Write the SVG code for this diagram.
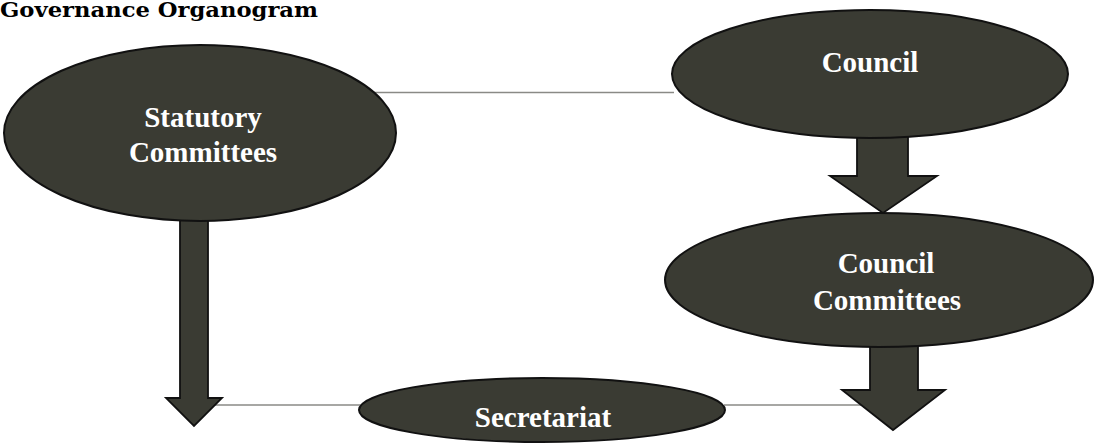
<svg xmlns="http://www.w3.org/2000/svg" width="1094" height="444" viewBox="0 0 1094 444">
<style>
.node{fill:#3a3b33;stroke:#111;stroke-width:2}
.arrow{fill:#3a3b33;stroke:#111;stroke-width:1.8;stroke-linejoin:miter}
.link{stroke:#8a8a86;stroke-width:1.3;fill:none}
.lbl{font-family:"Liberation Serif","Times New Roman",serif;font-weight:bold;font-size:29px;fill:#ffffff;text-anchor:middle}
.title{font-family:"DejaVu Serif",serif;font-weight:bold;font-size:20px;fill:#000}
</style>
<rect width="1094" height="444" fill="#ffffff"/>
<text class="title" x="0" y="17" textLength="318" lengthAdjust="spacingAndGlyphs">Governance Organogram</text>
<g id="connectors">
<line class="link" x1="372" y1="92.5" x2="674" y2="92.5"/>
<line class="link" x1="212" y1="405" x2="362" y2="405"/>
<line class="link" x1="724" y1="405" x2="868" y2="405"/>
<polygon class="arrow" points="180,215 208,215 208,398 222,398 194,426 166,398 180,398"/>
<polygon class="arrow" points="857,132 908,132 908,176 937,176 883,213 830,176 857,176"/>
<polygon class="arrow" points="870,342 918,342 918,390 945,390 893,430 842,390 870,390"/>
</g>
<g id="statutory-committees">
<ellipse class="node" cx="200" cy="133" rx="196" ry="88"/>
<text class="lbl" x="203" y="127">Statutory</text>
<text class="lbl" x="203" y="162">Committees</text>
</g>
<g id="council">
<ellipse class="node" cx="870" cy="74" rx="198" ry="64"/>
<text class="lbl" x="870" y="72">Council</text>
</g>
<g id="council-committees">
<ellipse class="node" cx="879" cy="280" rx="214" ry="67"/>
<text class="lbl" x="886" y="273">Council</text>
<text class="lbl" x="887" y="310">Committees</text>
</g>
<g id="secretariat">
<ellipse class="node" cx="542" cy="410" rx="183" ry="32"/>
<text class="lbl" x="543" y="427">Secretariat</text>
</g>
</svg>
